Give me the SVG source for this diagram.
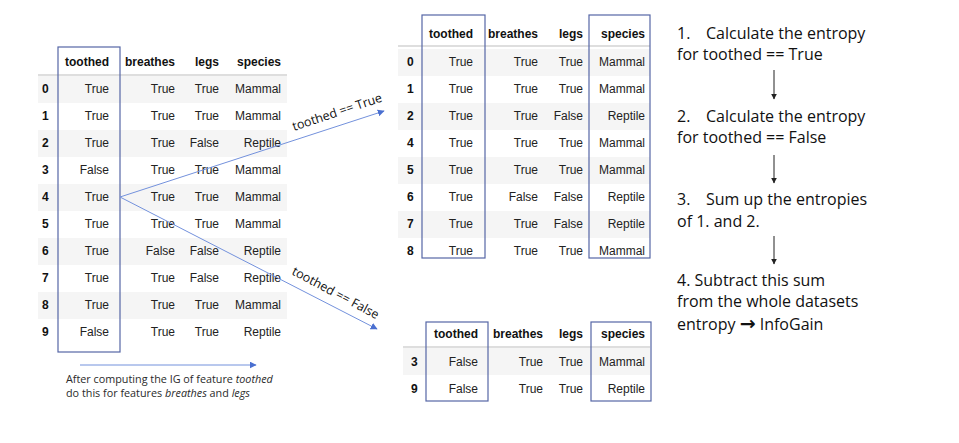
<svg xmlns="http://www.w3.org/2000/svg" width="959" height="443" viewBox="0 0 959 443">
<style>
.bg{fill:#ffffff}
.stripe{fill:#f5f5f5}
.hline{stroke:#bdbdbd;stroke-width:1.2}
.th{font-family:"Liberation Sans",Arial,sans-serif;font-size:12px;font-weight:bold;fill:#111;text-anchor:end}
.idx{font-family:"Liberation Sans",Arial,sans-serif;font-size:12px;font-weight:bold;fill:#111}
.td{font-family:"Liberation Sans",Arial,sans-serif;font-size:12px;fill:#222;text-anchor:end}
.box{fill:none;stroke:#5566a6;stroke-width:1.2}
.conn{fill:none;stroke:#7391dc;stroke-width:1}
.flow{fill:none;stroke:#222;stroke-width:1}
.lbl{font-family:"Open Sans","Noto Sans",sans-serif;font-size:12.5px;fill:#111}
.cap{font-family:"Open Sans","Noto Sans",sans-serif;font-size:10.8px;fill:#2a2a2a}
.step{font-family:"Open Sans","Noto Sans",sans-serif;font-size:16px;fill:#111}
.arr{font-family:"DejaVu Sans",sans-serif;font-weight:bold;font-size:19px}
</style>
<defs>
<marker id="ab" viewBox="0 0 10 10" refX="9" refY="5" markerWidth="7" markerHeight="7" orient="auto" markerUnits="userSpaceOnUse"><path d="M0,0 L10,5 L0,10 z" fill="#4a6fd0"/></marker>
<marker id="ak" viewBox="0 0 10 10" refX="9" refY="5" markerWidth="6" markerHeight="6" orient="auto" markerUnits="userSpaceOnUse"><path d="M0,0 L10,5 L0,10 z" fill="#222"/></marker>
</defs>
<rect class="bg" x="0" y="0" width="959" height="443"/>

<g id="table-full">
<rect class="stripe" x="38" y="76" width="249" height="27"/>
<rect class="stripe" x="38" y="130" width="249" height="27"/>
<rect class="stripe" x="38" y="184" width="249" height="27"/>
<rect class="stripe" x="38" y="238" width="249" height="27"/>
<rect class="stripe" x="38" y="292" width="249" height="27"/>
<line class="hline" x1="38" y1="75" x2="287" y2="75"/>
<text class="th" x="109" y="66">toothed</text>
<text class="th" x="175" y="66">breathes</text>
<text class="th" x="219" y="66">legs</text>
<text class="th" x="281" y="66">species</text>
<g>
<text class="idx" x="42" y="93">0</text><text class="td" x="109" y="93">True</text><text class="td" x="175" y="93">True</text><text class="td" x="219" y="93">True</text><text class="td" x="281" y="93">Mammal</text>
<text class="idx" x="42" y="120">1</text><text class="td" x="109" y="120">True</text><text class="td" x="175" y="120">True</text><text class="td" x="219" y="120">True</text><text class="td" x="281" y="120">Mammal</text>
<text class="idx" x="42" y="147">2</text><text class="td" x="109" y="147">True</text><text class="td" x="175" y="147">True</text><text class="td" x="219" y="147">False</text><text class="td" x="281" y="147">Reptile</text>
<text class="idx" x="42" y="174">3</text><text class="td" x="109" y="174">False</text><text class="td" x="175" y="174">True</text><text class="td" x="219" y="174">True</text><text class="td" x="281" y="174">Mammal</text>
<text class="idx" x="42" y="201">4</text><text class="td" x="109" y="201">True</text><text class="td" x="175" y="201">True</text><text class="td" x="219" y="201">True</text><text class="td" x="281" y="201">Mammal</text>
<text class="idx" x="42" y="228">5</text><text class="td" x="109" y="228">True</text><text class="td" x="175" y="228">True</text><text class="td" x="219" y="228">True</text><text class="td" x="281" y="228">Mammal</text>
<text class="idx" x="42" y="255">6</text><text class="td" x="109" y="255">True</text><text class="td" x="175" y="255">False</text><text class="td" x="219" y="255">False</text><text class="td" x="281" y="255">Reptile</text>
<text class="idx" x="42" y="282">7</text><text class="td" x="109" y="282">True</text><text class="td" x="175" y="282">True</text><text class="td" x="219" y="282">False</text><text class="td" x="281" y="282">Reptile</text>
<text class="idx" x="42" y="309">8</text><text class="td" x="109" y="309">True</text><text class="td" x="175" y="309">True</text><text class="td" x="219" y="309">True</text><text class="td" x="281" y="309">Mammal</text>
<text class="idx" x="42" y="336">9</text><text class="td" x="109" y="336">False</text><text class="td" x="175" y="336">True</text><text class="td" x="219" y="336">True</text><text class="td" x="281" y="336">Reptile</text>
</g>
<rect class="box" x="58" y="47" width="62" height="305"/>
</g>

<g id="table-true">
<rect class="stripe" x="398" y="49" width="252" height="27"/>
<rect class="stripe" x="398" y="103" width="252" height="27"/>
<rect class="stripe" x="398" y="157" width="252" height="27"/>
<rect class="stripe" x="398" y="211" width="252" height="27"/>
<line class="hline" x1="398" y1="46" x2="650" y2="46"/>
<text class="th" x="473" y="38">toothed</text>
<text class="th" x="538" y="38">breathes</text>
<text class="th" x="583" y="38">legs</text>
<text class="th" x="645" y="38">species</text>
<text class="idx" x="407" y="66">0</text><text class="td" x="473" y="66">True</text><text class="td" x="538" y="66">True</text><text class="td" x="583" y="66">True</text><text class="td" x="645" y="66">Mammal</text>
<text class="idx" x="407" y="93">1</text><text class="td" x="473" y="93">True</text><text class="td" x="538" y="93">True</text><text class="td" x="583" y="93">True</text><text class="td" x="645" y="93">Mammal</text>
<text class="idx" x="407" y="120">2</text><text class="td" x="473" y="120">True</text><text class="td" x="538" y="120">True</text><text class="td" x="583" y="120">False</text><text class="td" x="645" y="120">Reptile</text>
<text class="idx" x="407" y="147">4</text><text class="td" x="473" y="147">True</text><text class="td" x="538" y="147">True</text><text class="td" x="583" y="147">True</text><text class="td" x="645" y="147">Mammal</text>
<text class="idx" x="407" y="174">5</text><text class="td" x="473" y="174">True</text><text class="td" x="538" y="174">True</text><text class="td" x="583" y="174">True</text><text class="td" x="645" y="174">Mammal</text>
<text class="idx" x="407" y="201">6</text><text class="td" x="473" y="201">True</text><text class="td" x="538" y="201">False</text><text class="td" x="583" y="201">False</text><text class="td" x="645" y="201">Reptile</text>
<text class="idx" x="407" y="228">7</text><text class="td" x="473" y="228">True</text><text class="td" x="538" y="228">True</text><text class="td" x="583" y="228">False</text><text class="td" x="645" y="228">Reptile</text>
<text class="idx" x="407" y="255">8</text><text class="td" x="473" y="255">True</text><text class="td" x="538" y="255">True</text><text class="td" x="583" y="255">True</text><text class="td" x="645" y="255">Mammal</text>
<rect class="box" x="422" y="15" width="63" height="243"/>
<rect class="box" x="589" y="15" width="61" height="243"/>
</g>

<g id="table-false">
<rect class="stripe" x="403" y="348" width="247" height="27"/>
<line class="hline" x1="403" y1="347" x2="650" y2="347"/>
<text class="th" x="478" y="338">toothed</text>
<text class="th" x="543" y="338">breathes</text>
<text class="th" x="583" y="338">legs</text>
<text class="th" x="645" y="338">species</text>
<text class="idx" x="411" y="366">3</text><text class="td" x="478" y="366">False</text><text class="td" x="543" y="366">True</text><text class="td" x="583" y="366">True</text><text class="td" x="645" y="366">Mammal</text>
<text class="idx" x="411" y="393">9</text><text class="td" x="478" y="393">False</text><text class="td" x="543" y="393">True</text><text class="td" x="583" y="393">True</text><text class="td" x="645" y="393">Reptile</text>
<rect class="box" x="426" y="322" width="62" height="79"/>
<rect class="box" x="591" y="322" width="60" height="79"/>
</g>

<g id="connectors">
<line class="conn" x1="120" y1="197" x2="384" y2="111" marker-end="url(#ab)"/>
<line class="conn" x1="120" y1="197" x2="377" y2="329" marker-end="url(#ab)"/>
<line class="conn" x1="80" y1="365" x2="256" y2="365" marker-end="url(#ab)"/>
<line class="flow" x1="774" y1="70" x2="774" y2="99" marker-end="url(#ak)"/>
<line class="flow" x1="774" y1="155" x2="774" y2="183" marker-end="url(#ak)"/>
<line class="flow" x1="774" y1="236" x2="774" y2="264" marker-end="url(#ak)"/>
<text class="lbl" transform="translate(294,131) rotate(-18.5)">toothed == True</text>
<text class="lbl" transform="translate(291,274) rotate(28)">toothed == False</text>
</g>

<g id="caption">
<text class="cap" x="66" y="383">After computing the IG of feature <tspan font-style="italic">toothed</tspan></text>
<text class="cap" x="66" y="397">do this for features <tspan font-style="italic">breathes</tspan> and <tspan font-style="italic">legs</tspan></text>
</g>

<g id="steps">
<text class="step" x="677" y="39">1.</text><text class="step" x="706" y="39">Calculate the entropy</text>
<text class="step" x="677" y="60">for toothed == True</text>
<text class="step" x="677" y="122">2.</text><text class="step" x="706" y="122">Calculate the entropy</text>
<text class="step" x="677" y="143">for toothed == False</text>
<text class="step" x="677" y="205">3.</text><text class="step" x="706" y="205">Sum up the entropies</text>
<text class="step" x="677" y="227">of 1. and 2.</text>
<text class="step" x="677" y="286">4. Subtract this sum</text>
<text class="step" x="677" y="307">from the whole datasets</text>
<text class="step" x="677" y="330">entropy <tspan class="arr">→</tspan> InfoGain</text>
</g>
</svg>
